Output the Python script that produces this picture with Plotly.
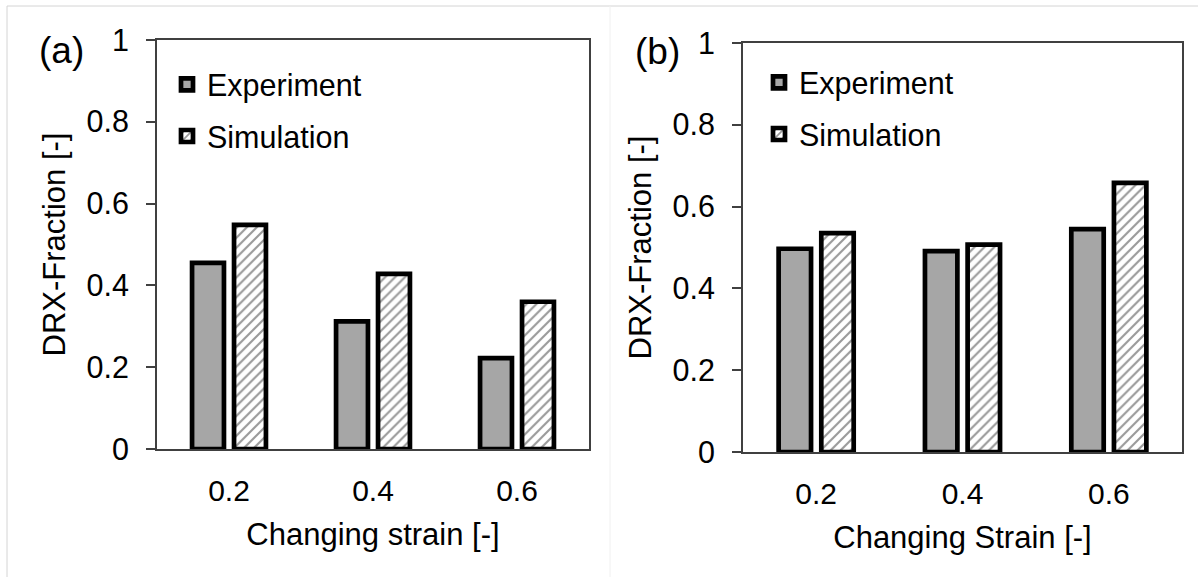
import plotly.graph_objects as go

W, H = 1198, 577

categories = ["0.2", "0.4", "0.6"]
exp_a = [0.455, 0.312, 0.222]
sim_a = [0.548, 0.428, 0.36]
exp_b = [0.497, 0.491, 0.545]
sim_b = [0.535, 0.507, 0.658]
ytick_vals = [0, 0.2, 0.4, 0.6, 0.8, 1]
ytick_text = ["0", "0.2", "0.4", "0.6", "0.8", "1"]

FONT = "Liberation Sans, Arial, sans-serif"
GRAY = "#a6a6a6"
LINE = "#404040"


def px_x(p):
    return p / W


def px_y(p):
    return 1 - p / H


fig = go.Figure()


def add_pair(exp, sim, xa, ya, legend):
    fig.add_trace(go.Bar(
        x=categories, y=exp, name="Experiment", xaxis=xa, yaxis=ya,
        legend=legend, legendgroup=legend + "e",
        marker=dict(color=GRAY, line=dict(color="black", width=4.7)),
    ))
    fig.add_trace(go.Bar(
        x=categories, y=sim, name="Simulation", xaxis=xa, yaxis=ya,
        legend=legend, legendgroup=legend + "s",
        marker=dict(color="white", line=dict(color="black", width=4.7),
                    pattern=dict(shape="/", fgcolor="#9a9a9a", bgcolor="white",
                                 size=7, solidity=0.3, fillmode="replace")),
    ))


add_pair(exp_a, sim_a, "x", "y", "legend")
add_pair(exp_b, sim_b, "x2", "y2", "legend2")

xcommon = dict(type="category", range=[-0.5, 2.5], showline=True, mirror=True,
               linecolor=LINE, linewidth=2, ticks="", showgrid=False,
               automargin=False,
               tickfont=dict(family=FONT, size=30, color="black"),
               ticklabelstandoff=14)
ycommon = dict(range=[0, 1], tickvals=ytick_vals, ticktext=ytick_text,
               showline=True, mirror=True, linecolor=LINE, linewidth=2,
               ticks="outside", ticklen=9, tickwidth=2, tickcolor=LINE,
               showgrid=False, zeroline=False, automargin=False,
               tickfont=dict(family=FONT, size=30.5, color="black"),
               ticklabelstandoff=11)

fig.update_layout(
    template="none",
    width=W, height=H,
    margin=dict(l=0, r=0, t=0, b=0, autoexpand=False),
    paper_bgcolor="white", plot_bgcolor="white",
    barmode="group", bargap=0.417, bargroupgap=0.24,
    font=dict(family=FONT, color="black"),
    xaxis=dict(domain=[px_x(157), px_x(589)], anchor="y",
               title=dict(text="Changing strain [-]", font=dict(size=31), standoff=17),
               **xcommon),
    yaxis=dict(domain=[px_y(449), px_y(40)], anchor="x",
               title=dict(text="DRX-Fraction [-]", font=dict(size=31), standoff=12),
               **ycommon),
    xaxis2=dict(domain=[px_x(743), px_x(1182)], anchor="y2",
                title=dict(text="Changing Strain [-]", font=dict(size=31), standoff=17),
                **xcommon),
    yaxis2=dict(domain=[px_y(452), px_y(43)], anchor="x2",
                title=dict(text="DRX-Fraction [-]", font=dict(size=31), standoff=12),
                **ycommon),
    legend=dict(x=px_x(167), y=px_y(58), xanchor="left", yanchor="top",
                bgcolor="rgba(0,0,0,0)", borderwidth=0, tracegroupgap=9,
                font=dict(family=FONT, size=30.5, color="black")),
    legend2=dict(x=px_x(759), y=px_y(56), xanchor="left", yanchor="top",
                 bgcolor="rgba(0,0,0,0)", borderwidth=0, tracegroupgap=9,
                 font=dict(family=FONT, size=30.5, color="black")),
    annotations=[
        dict(text="(a)", x=px_x(61), y=px_y(50), xref="paper", yref="paper",
             xanchor="center", yanchor="middle",
             showarrow=False, font=dict(family=FONT, size=37, color="black")),
        dict(text="(b)", x=px_x(657), y=px_y(51), xref="paper", yref="paper",
             xanchor="center", yanchor="middle",
             showarrow=False, font=dict(family=FONT, size=37, color="black")),
    ],
    shapes=[
        dict(type="line", xref="paper", yref="paper", x0=px_x(7), x1=1, y0=px_y(6), y1=px_y(6),
             line=dict(color="#d4d4d4", width=1)),
        dict(type="line", xref="paper", yref="paper", x0=px_x(7), x1=px_x(7), y0=px_y(6), y1=0,
             line=dict(color="#d4d4d4", width=1)),
        dict(type="line", xref="paper", yref="paper", x0=px_x(610), x1=px_x(610), y0=px_y(6), y1=0,
             line=dict(color="#f0f0f0", width=1)),
    ],
)

fig.write_html("out.html")
